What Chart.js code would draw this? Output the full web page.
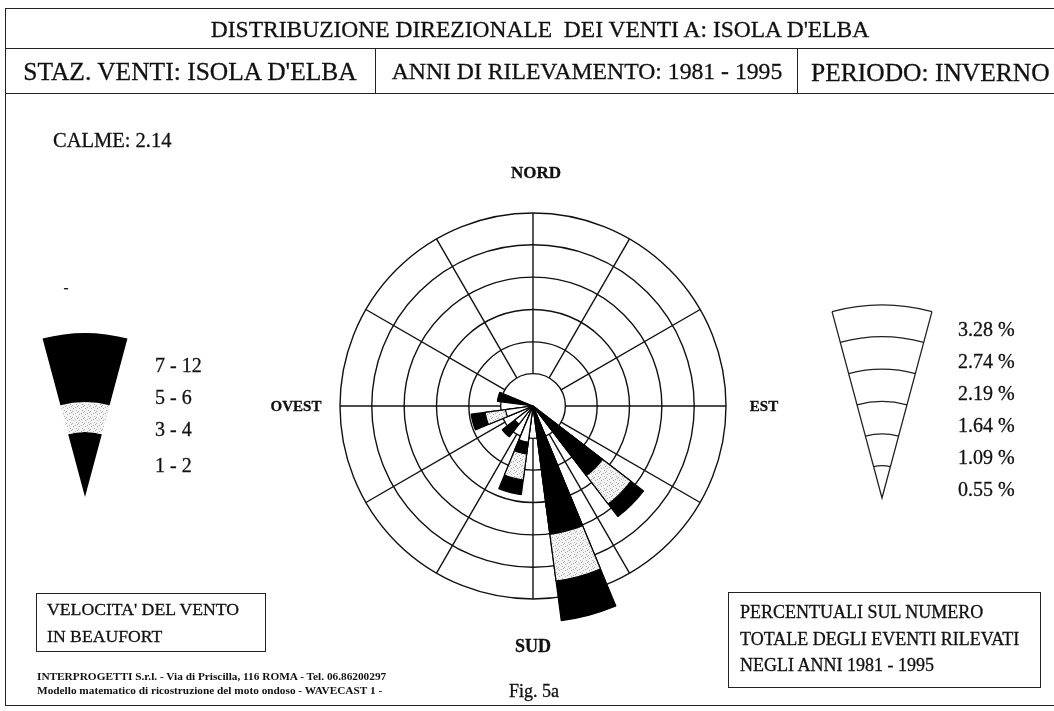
<!DOCTYPE html>
<html>
<head>
<meta charset="utf-8">
<script src="https://cdn.jsdelivr.net/npm/chart.js@4"></script>
<style>
  body { margin: 0; background: #fff; }
  #wrap { position: relative; width: 1054px; height: 711px; background: #fff; overflow: hidden;
          font-family: "Liberation Serif", "Times New Roman", serif; color: #111; }
  #rose { position: absolute; left: 0; top: 0; }
  .t { position: absolute; white-space: nowrap; line-height: 1; -webkit-text-stroke: 0.3px #111; }
  .c { transform: translate(-50%, -50%); }
  .hl { position: absolute; height: 0; border-top: 1.6px solid #222; }
  .vl { position: absolute; width: 0; border-left: 1.6px solid #222; }
  .box { position: absolute; border: 1.6px solid #222; }
  .b { font-weight: bold; }
</style>
</head>
<body>
<div id="wrap">
  <canvas id="rose" width="1054" height="711"></canvas>

  <!-- frame -->
  <div class="hl" style="left:5px; top:8px; width:1049px;"></div>
  <div class="hl" style="left:5px; top:48px; width:1049px;"></div>
  <div class="hl" style="left:5px; top:93px; width:1049px;"></div>
  <div class="hl" style="left:5px; top:705px; width:1049px;"></div>
  <div class="vl" style="left:5px; top:8px; height:698px;"></div>
  <div class="vl" style="left:375px; top:48px; height:45px;"></div>
  <div class="vl" style="left:797px; top:48px; height:45px;"></div>

  <div class="t c" style="left:540px; top:30px; font-size:23.5px;">DISTRIBUZIONE DIREZIONALE&nbsp; DEI VENTI A: ISOLA D'ELBA</div>
  <div class="t c" style="left:190px; top:72px; font-size:25.5px;">STAZ. VENTI: ISOLA D'ELBA</div>
  <div class="t c" style="left:587px; top:72px; font-size:23.7px;">ANNI DI RILEVAMENTO: 1981 - 1995</div>
  <div class="t" style="left:811px; top:60px; font-size:25.5px;">PERIODO: INVERNO</div>

  <div class="t" style="left:53px; top:130px; font-size:20.5px;">CALME: <span id="calme"></span></div>

  <div class="t c b" style="left:536px; top:172px; font-size:17px;">NORD</div>
  <div class="t c b" style="left:533px; top:646px; font-size:18px;">SUD</div>
  <div class="t c b" style="left:296px; top:406px; font-size:15px;">OVEST</div>
  <div class="t c b" style="left:764px; top:406px; font-size:15px;">EST</div>
  <div class="t c" style="left:66px; top:287px; font-size:15px;">-</div>

  <div id="beaufortLabels"></div>
  <div id="percentLabels"></div>

  <div class="box" style="left:36px; top:593px; width:228px; height:57px;"></div>
  <div class="t" style="left:47px; top:601px; font-size:17.7px;">VELOCITA' DEL VENTO</div>
  <div class="t" style="left:47px; top:628px; font-size:17.7px;">IN BEAUFORT</div>

  <div class="t b" style="left:37px; top:671px; font-size:11.3px; -webkit-text-stroke:0;">INTERPROGETTI S.r.l. - Via di Priscilla, 116 ROMA - Tel. 06.86200297</div>
  <div class="t b" style="left:37px; top:685px; font-size:11.3px; -webkit-text-stroke:0;">Modello matematico di ricostruzione del moto ondoso - WAVECAST 1 -</div>

  <div class="t" style="left:509px; top:682px; font-size:18px;">Fig. 5a</div>

  <div class="box" style="left:728px; top:592px; width:311px; height:94px;"></div>
  <div class="t" style="left:740px; top:603px; font-size:18px;">PERCENTUALI SUL NUMERO</div>
  <div class="t" style="left:740px; top:630px; font-size:18px;">TOTALE DEGLI EVENTI RILEVATI</div>
  <div class="t" style="left:740px; top:656px; font-size:18px;">NEGLI ANNI 1981 - 1995</div>
</div>

<script>
// sector centres (degrees from north, clockwise)
const directions = ['15°', '45°', '75°', '105°', '135°', '165°', '195°', '225°', '255°', '285°', '315°', '345°'];

// frequency (%) per Beaufort class and direction
const beaufort1to2  = [0, 0, 0, 0, 0,    0,    0.62, 0.39, 0.47, 0,    0, 0];
const beaufort3to4  = [0, 0, 0, 0, 1.49, 2.20, 0.20, 0.27, 0,    0.61, 0, 0];
const beaufort5to6  = [0, 0, 0, 0, 0.61, 0.80, 0.45, 0,    0.35, 0,    0, 0];
const beaufort7to12 = [0, 0, 0, 0, 0.27, 0.68, 0.25, 0,    0.24, 0,    0, 0];

const classLabels = ['1 - 2', '3 - 4', '5 - 6', '7 - 12'];
const ringValues = [0.55, 1.09, 1.64, 2.19, 2.74, 3.28];
const calme = 2.14;

document.getElementById('calme').textContent = calme.toFixed(2);

// stippled fill like the scanned grey band
function stipple() {
    const p = document.createElement('canvas');
    p.width = 6; p.height = 6;
    const g = p.getContext('2d');
    g.fillStyle = '#f3f3f3';
    g.fillRect(0, 0, 6, 6);
    g.fillStyle = '#b0b0b0';
    [[1, 0], [4, 2], [0, 3], [3, 5], [5, 4]].forEach(([x, y]) => g.fillRect(x, y, 1, 1));
    return g.createPattern(p, 'repeat');
}
const dots = stipple();

// each petal is half a sector wide: put an empty slot between two directions
const labels = [];
directions.forEach(d => { labels.push(d); labels.push(''); });
const spread = arr => {
    const out = [];
    arr.forEach(v => { out.push(v); out.push(0); });
    return out;
};

// cumulative classes, drawn from the longest one upwards
const classes = [beaufort1to2, beaufort3to4, beaufort5to6, beaufort7to12];
const cumulative = [];
let running = directions.map(() => 0);
classes.forEach(c => {
    running = running.map((v, i) => +(v + c[i]).toFixed(2));
    cumulative.push(running.slice());
});
const fills = ['#ffffff', '#000000', dots, '#000000'];

const datasets = cumulative.map((vals, k) => ({
    label: classLabels[k],
    data: spread(vals),
    backgroundColor: fills[k],
    borderColor: '#000',
    borderWidth: ctx => (ctx.raw > 0 && (k === 0 || classes[k][Math.floor(ctx.dataIndex / 2)] > 0)) ? 1.2 : 0,
    clip: false
}));

const spokes = {
    id: 'spokes',
    beforeDatasetsDraw(chart) {
        const s = chart.scales.r, ctx = chart.ctx;
        const r0 = s.getDistanceFromCenterForValue(ringValues[0]);
        const r1 = s.getDistanceFromCenterForValue(ringValues[ringValues.length - 1]);
        ctx.save();
        ctx.strokeStyle = '#111';
        ctx.lineWidth = 1.4;
        for (let k = 0; k < 12; k++) {
            const a = k * Math.PI / 6 - Math.PI / 2;
            ctx.beginPath();
            ctx.moveTo(s.xCenter + r0 * Math.cos(a), s.yCenter + r0 * Math.sin(a));
            ctx.lineTo(s.xCenter + r1 * Math.cos(a), s.yCenter + r1 * Math.sin(a));
            ctx.stroke();
        }
        ctx.restore();
    }
};

// legend wedges at the sides
const keys = {
    id: 'keys',
    afterDraw(chart) {
        const s = chart.scales.r, ctx = chart.ctx;
        const a0 = -Math.PI / 2 - Math.PI / 12, a1 = -Math.PI / 2 + Math.PI / 12;

        // Beaufort key
        const ax = 85, ay = 497;
        const bands = [[0, 65, '#000'], [65, 95, dots], [95, 164, '#000']];
        ctx.save();
        bands.forEach(([ri, ro, f]) => {
            ctx.beginPath();
            ctx.arc(ax, ay, ro, a0, a1);
            ctx.arc(ax, ay, ri, a1, a0, true);
            ctx.closePath();
            ctx.fillStyle = f;
            ctx.fill();
        });

        // percentage key, rings as in the rose
        const px = 882, py = 498;
        ctx.strokeStyle = '#222';
        ctx.lineWidth = 1.3;
        const rMax = s.getDistanceFromCenterForValue(ringValues[ringValues.length - 1]);
        ctx.beginPath();
        ctx.moveTo(px + rMax * Math.cos(a0), py + rMax * Math.sin(a0));
        ctx.lineTo(px, py);
        ctx.lineTo(px + rMax * Math.cos(a1), py + rMax * Math.sin(a1));
        ctx.stroke();
        ringValues.forEach(v => {
            const r = s.getDistanceFromCenterForValue(v);
            ctx.beginPath();
            ctx.arc(px, py, r, a0, a1);
            ctx.stroke();
        });
        ctx.restore();
    }
};

new Chart(document.getElementById('rose'), {
    type: 'polarArea',
    data: { labels: labels, datasets: datasets },
    options: {
        responsive: false,
        animation: false,
        layout: { padding: { left: 340, right: 328, top: 212, bottom: 111 } },
        plugins: { legend: { display: false }, tooltip: { enabled: false } },
        scales: {
            r: {
                min: 0,
                max: ringValues[ringValues.length - 1],
                startAngle: 7.5,
                afterBuildTicks: sc => { sc.ticks = [0].concat(ringValues).map(v => ({ value: v })); },
                ticks: { display: false },
                pointLabels: { display: false },
                angleLines: { display: false },
                grid: { circular: true, color: '#111', lineWidth: 1.4 }
            }
        }
    },
    plugins: [spokes, keys]
});

// key labels
const bl = document.getElementById('beaufortLabels');
[['7 - 12', 365], ['5 - 6', 397], ['3 - 4', 429], ['1 - 2', 465]].forEach(([txt, y]) => {
    const d = document.createElement('div');
    d.className = 't';
    d.style.cssText = `left:155px; top:${y - 10}px; font-size:20px;`;
    d.textContent = txt;
    bl.appendChild(d);
});
const pl = document.getElementById('percentLabels');
ringValues.slice().reverse().forEach((v, i) => {
    const d = document.createElement('div');
    d.className = 't';
    d.style.cssText = `left:958px; top:${329 + i * 32 - 10}px; font-size:20px;`;
    d.textContent = v.toFixed(2) + ' %';
    pl.appendChild(d);
});
</script>
</body>
</html>
